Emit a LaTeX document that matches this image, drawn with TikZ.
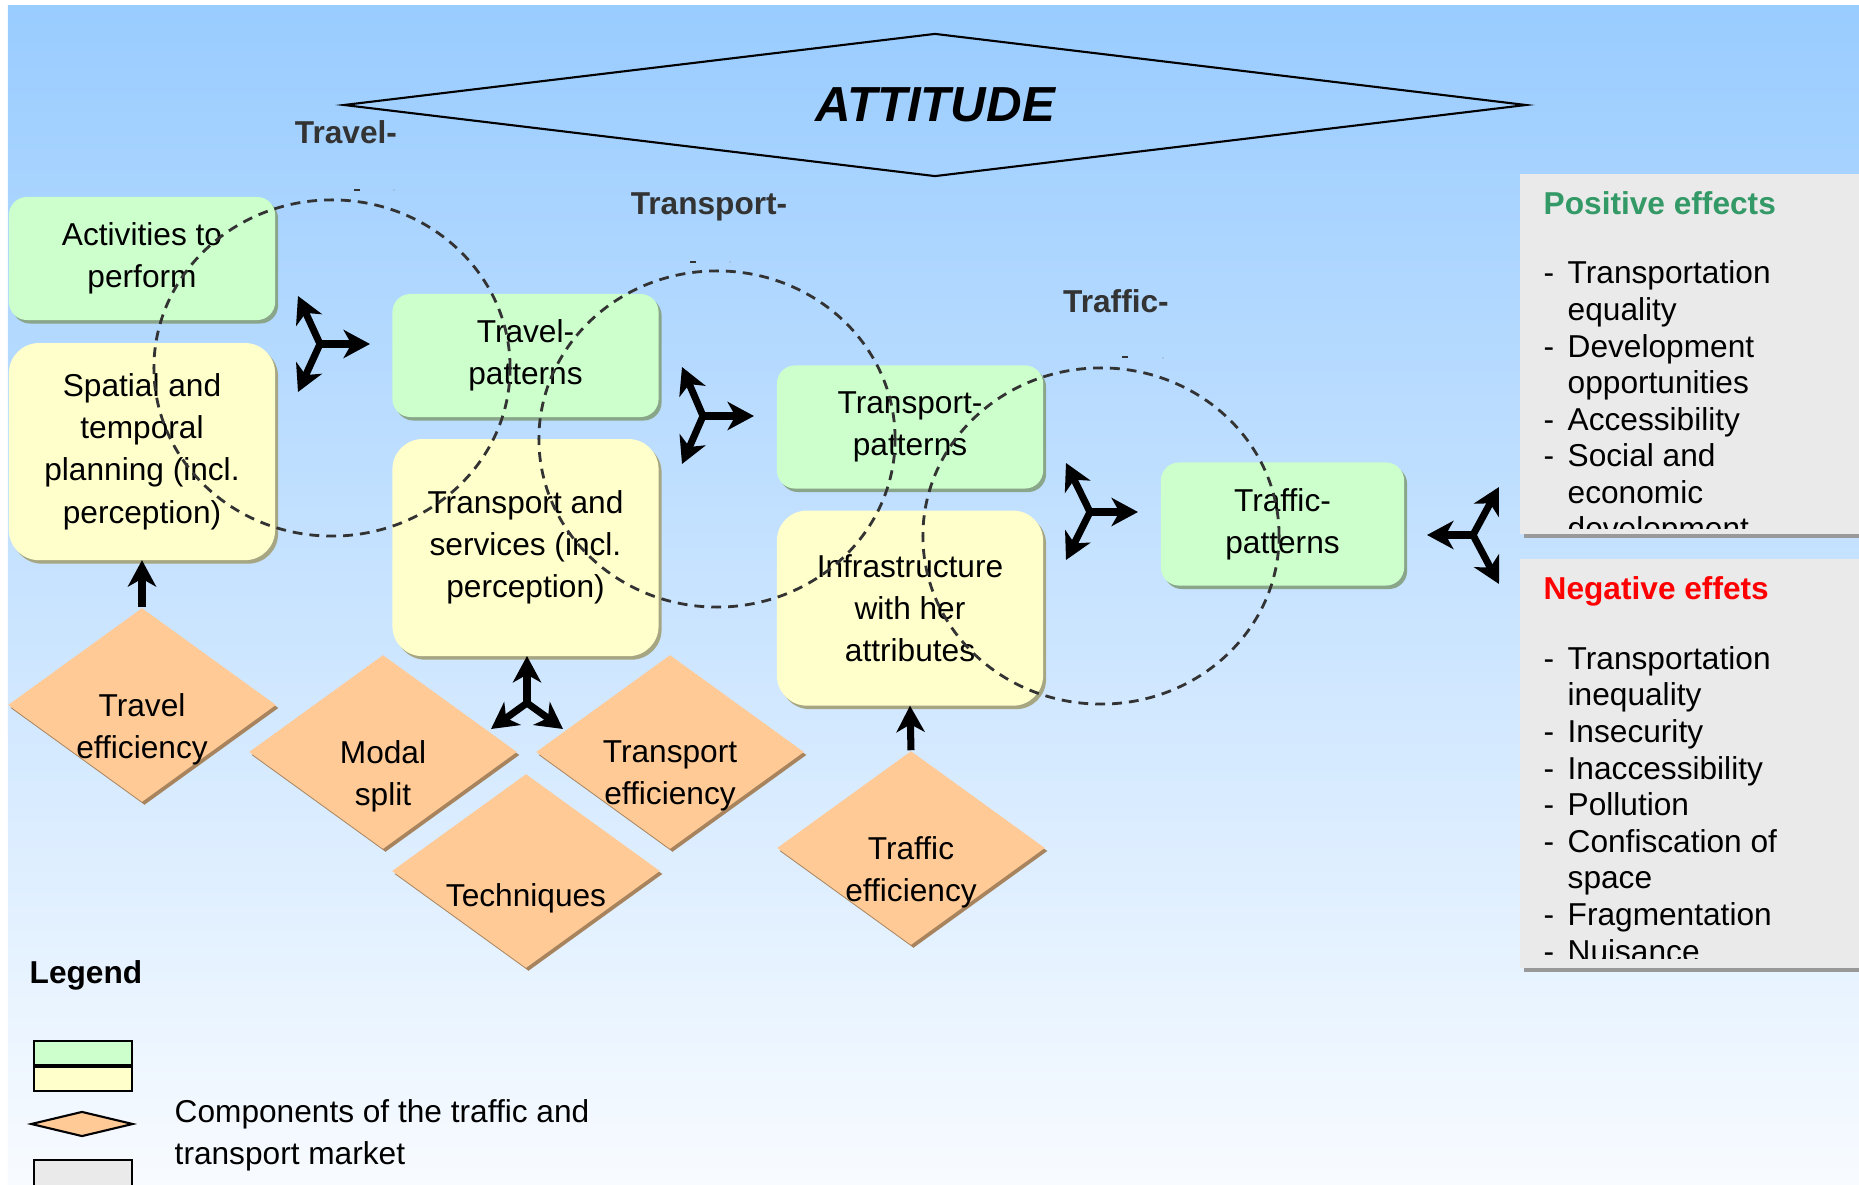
\documentclass[tikz,border=0pt]{standalone}
\usepackage{fontspec}
\setmainfont{Liberation Sans}
\usetikzlibrary{positioning,shapes.geometric,shadows,arrows.meta}

\definecolor{bgtop}{HTML}{99CCFF}
\definecolor{bgbot}{HTML}{F8FBFF}
\definecolor{grnbox}{HTML}{CCFFCC}
\definecolor{ylwbox}{HTML}{FFFFCC}
\definecolor{orgbox}{HTML}{FFCA96}
\definecolor{grnshd}{HTML}{8AA68A}
\definecolor{ylwshd}{HTML}{A6A682}
\definecolor{orgshd}{HTML}{A8845E}
\definecolor{panelgray}{HTML}{EAEAEA}
\definecolor{panelshd}{HTML}{999999}
\definecolor{posgreen}{HTML}{339966}
\definecolor{labgray}{HTML}{333333}

\newcommand{\effitem}{\makebox[0.24cm][l]{-}}
\newcommand{\effcont}{\hspace*{0.24cm}}

\begin{document}
\begin{tikzpicture}[x=0.01cm, y=-0.01cm,
    txt/.style={font=\fontsize{9}{12}\selectfont, align=center, inner sep=0pt, outer sep=0pt},
    box/.style={txt, rectangle, minimum width=2.66cm},
    greenbox/.style={box, fill=grnbox, rounded corners=0.18cm, minimum height=1.23cm,
      drop shadow={shadow xshift=0.03cm, shadow yshift=-0.035cm, fill=grnshd, opacity=1}},
    yellowbox/.style={box, fill=ylwbox, rounded corners=0.3cm, minimum height=2.17cm,
      drop shadow={shadow xshift=0.03cm, shadow yshift=-0.035cm, fill=ylwshd, opacity=1}},
    market/.style={diamond, shape aspect=1.38, minimum width=2.68cm, minimum height=1.94cm,
      inner sep=0pt, fill=orgbox,
      drop shadow={shadow xshift=0.025cm, shadow yshift=-0.03cm, fill=orgshd, opacity=1}},
    zone/.style={draw=labgray, line width=0.8pt, dash pattern=on 2.8pt off 2pt},
    flow/.style={line width=2pt, -{Stealth[length=7.5pt, width=8pt, inset=2.2pt]}},
    stage/.style={font=\fontsize{9}{11}\selectfont\bfseries, text=labgray, inner sep=0pt},
    panelbox/.style={rectangle, fill=panelgray, minimum width=3.45cm, anchor=north west, inner sep=0pt,
      drop shadow={shadow xshift=0.04cm, shadow yshift=-0.04cm, fill=panelshd, opacity=1}},
    efftitle/.style={font=\fontsize{9}{11}\selectfont\bfseries, anchor=base west, inner sep=0pt},
    efflist/.style={font=\fontsize{9}{10.4}\selectfont, align=left, anchor=base west, inner sep=0pt},
    legbox/.style={rectangle, draw, line width=0.6pt, minimum width=0.98cm, minimum height=0.24cm,
      inner sep=0pt, anchor=north west}
  ]
  \useasboundingbox (0,0) rectangle (1859,1185);
  \fill[top color=bgtop, bottom color=bgbot] (8,6) rectangle (1859,1185);

  % attitude and stage labels
  \node[diamond, draw, line width=0.6pt, shape aspect=8.27, minimum width=11.82cm, minimum height=1.43cm,
    inner sep=0pt, font=\fontsize{14}{17}\selectfont\bfseries\itshape] (att) at (935,105) {ATTITUDE};
  \node[stage] (stTravel) at (346,132) {Travel-};
  \node[stage] (stTransport) at (709,207) {Transport-};
  \node[stage] (stTraffic) at (1116,301) {Traffic-};

  % patterns and their bases
  \node[greenbox] (act) at (142,258.5) {Activities to\\perform};
  \node[yellowbox, below=0.23cm of act] (spat) {Spatial and\\temporal\\planning (incl.\\perception)};
  \node[greenbox] (tp) at (525.5,355.5) {Travel-\\patterns};
  \node[yellowbox, below=0.22cm of tp] (tsv) {Transport and\\services (incl.\\perception)};
  \node[greenbox] (trp) at (910,427) {Transport-\\patterns};
  \node[yellowbox, minimum height=1.95cm, below=0.22cm of trp] (inf) {Infrastructure\\with her\\attributes};
  \node[greenbox, minimum width=2.43cm] (tfp) at (1282.5,524) {Traffic-\\patterns};

  % market components
  \node[market] (te) at (142,705) {};
  \node[txt] (te-l) at ([yshift=-0.24cm]te.center) {Travel\\efficiency};
  \node[market] (ms) at (383,752) {};
  \node[txt] (ms-l) at ([yshift=-0.24cm]ms.center) {Modal\\split};
  \node[market] (tre) at (670,752) {};
  \node[txt] (tre-l) at ([yshift=-0.24cm]tre.center) {Transport\\efficiency};
  \node[market] (tq) at (526,871) {};
  \node[txt] (tq-l) at ([yshift=-0.27cm]tq.center) {Techniques};
  \node[market] (tfe) at (911,848) {};
  \node[txt] (tfe-l) at ([yshift=-0.24cm]tfe.center) {Traffic\\efficiency};

  % dashed zones
  \coordinate (z1) at (332,368);
  \coordinate (z2) at (717,439);
  \coordinate (z3) at (1101,536);
  \draw[zone] (z1) ellipse [x radius=1.78cm, y radius=1.68cm];
  \draw[zone] (z2) ellipse [x radius=1.78cm, y radius=1.68cm];
  \draw[zone] (z3) ellipse [x radius=1.78cm, y radius=1.68cm];
  \fill[labgray] (354,189) rectangle (360,191);
  \fill[labgray!60] (394,190) circle (0.6);
  \fill[labgray] (690,261) rectangle (696,263);
  \fill[labgray!60] (730,262) circle (0.6);
  \fill[labgray] (1122,356) rectangle (1128,358);
  \fill[labgray!60] (1163,358) circle (0.6);

  % three-way arrows
  \coordinate (v1) at (320,344);
  \coordinate (v1r) at (370,344);
  \coordinate (v1u) at (298,296);
  \coordinate (v1d) at (298,392);
  \coordinate (v2) at (703,416);
  \coordinate (v2r) at (754,416);
  \coordinate (v2u) at (682,367);
  \coordinate (v2d) at (682,464);
  \coordinate (v3) at (1090,512);
  \coordinate (v3r) at (1138,512);
  \coordinate (v3u) at (1066,463);
  \coordinate (v3d) at (1066,560);
  \coordinate (v4) at (1473,535);
  \coordinate (v4l) at (1427,535);
  \coordinate (v4u) at (1499,487);
  \coordinate (v4d) at (1499,584);
  \coordinate (v5) at (527,703);
  \coordinate (v5u) at (527,656);
  \coordinate (v5l) at (491,729);
  \coordinate (v5r) at (563,729);
  \draw[flow] (v1) -- (v1r);
  \draw[flow] (v1) -- (v1u);
  \draw[flow] (v1) -- (v1d);
  \draw[flow] (v2) -- (v2r);
  \draw[flow] (v2) -- (v2u);
  \draw[flow] (v2) -- (v2d);
  \draw[flow] (v3) -- (v3r);
  \draw[flow] (v3) -- (v3u);
  \draw[flow] (v3) -- (v3d);
  \draw[flow] (v4) -- (v4l);
  \draw[flow] (v4) -- (v4u);
  \draw[flow] (v4) -- (v4d);
  \draw[flow] (v5) -- (v5u);
  \draw[flow] (v5) -- (v5l);
  \draw[flow] (v5) -- (v5r);
  \draw[flow] (te.north) -- (spat.south);
  \draw[flow] (tfe.north) -- (inf.south);

  % effects
  \node[panelbox, minimum height=3.6cm] (pos) at (1519,173) {};
  \node[panelbox, minimum height=4.09cm] (neg) at (1519,558) {};
  \node[efftitle, text=posgreen] (pos-t) at (1543,215) {Positive effects};
  \node[efftitle, text=red] (neg-t) at (1543,600) {Negative effets};
  \begin{scope}
    \clip (1519,173) rectangle (1859,529);
    \node[efflist] (pos-l) at (1543,540) {\effitem Transportation\\\effcont equality\\
      \effitem Development\\\effcont opportunities\\\effitem Accessibility\\
      \effitem Social and\\\effcont economic\\\effcont development};
  \end{scope}
  \begin{scope}
    \clip (1519,558) rectangle (1859,958);
    \node[efflist] (neg-l) at (1543,962) {\effitem Transportation\\\effcont inequality\\
      \effitem Insecurity\\\effitem Inaccessibility\\\effitem Pollution\\
      \effitem Confiscation of\\\effcont space\\\effitem Fragmentation\\\effitem Nuisance};
  \end{scope}

  % legend
  \node[font=\fontsize{9}{11}\selectfont\bfseries, anchor=base west, inner sep=0pt] (leg-t) at (29,983) {Legend};
  \node[legbox, fill=grnbox] (leg1) at (33,1040) {};
  \node[legbox, fill=ylwbox, below=0pt of leg1] (leg2) {};
  \node[diamond, draw, line width=0.6pt, fill=orgbox, shape aspect=4, minimum width=1.02cm,
    minimum height=0.25cm, inner sep=0pt] (leg3) at (82,1124) {};
  \node[legbox, fill=panelgray, minimum height=0.32cm] (leg4) at (33,1159) {};
  \node[font=\fontsize{9}{11.8}\selectfont, align=left, anchor=base west, inner sep=0pt] (leg-x)
    at (174,1164) {Components of the traffic and\\transport market};
\end{tikzpicture}
\end{document}
